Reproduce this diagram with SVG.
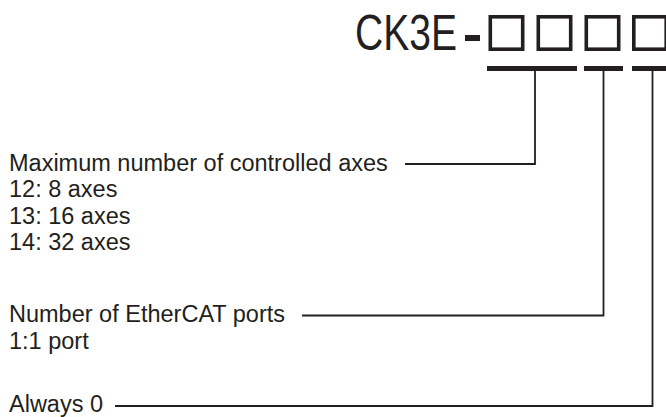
<svg xmlns="http://www.w3.org/2000/svg" width="666" height="417" viewBox="0 0 666 417">
<style>
.t{font-family:"Liberation Sans",Arial,sans-serif;font-size:23.5px;fill:#231f20}
.big{font-family:"Liberation Sans",Arial,sans-serif;font-size:50px;fill:#231f20}
.box{fill:none;stroke:#231f20;stroke-width:3.6}
.bar{fill:#231f20}
.ln{fill:none;stroke:#231f20;stroke-width:1.8}
</style>
<rect width="666" height="417" fill="#fff"/>
<g id="model">
<text class="big" x="355" y="50" textLength="102" lengthAdjust="spacingAndGlyphs">CK3E</text>
<rect class="bar" x="465" y="35" width="15" height="6"/>
<rect class="box" x="490.3" y="16.8" width="32.4" height="32.4"/>
<rect class="box" x="538.3" y="16.8" width="32.4" height="32.4"/>
<rect class="box" x="586.3" y="16.8" width="32.4" height="32.4"/>
<rect class="box" x="633.8" y="16.8" width="32.4" height="32.4"/>
<rect class="bar" x="487" y="66" width="90" height="5"/>
<rect class="bar" x="584" y="66" width="39" height="5"/>
<rect class="bar" x="632" y="66" width="40" height="5"/>
</g>
<g id="axes">
<text class="t" x="9" y="171">Maximum number of controlled axes</text>
<text class="t" x="9" y="197">12: 8 axes</text>
<text class="t" x="9" y="223.5">13: 16 axes</text>
<text class="t" x="9" y="250">14: 32 axes</text>
</g>
<g id="ports">
<text class="t" x="9" y="322">Number of EtherCAT ports</text>
<text class="t" x="9" y="348.5">1:1 port</text>
</g>
<g id="always">
<text class="t" x="9" y="412">Always 0</text>
</g>
<g id="connectors">
<polyline class="ln" points="535,71 535,164 405,164"/>
<polyline class="ln" points="603.5,71 603.5,315.5 302,315.5"/>
<polyline class="ln" points="652.5,71 652.5,406 115,406"/>
</g>
</svg>
